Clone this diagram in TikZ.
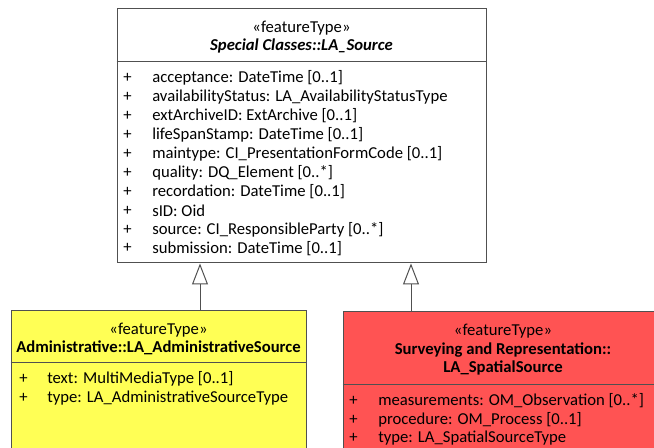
\documentclass[tikz,border=0pt]{standalone}
\usepackage{fontspec}
\setmainfont{Carlito}
\usetikzlibrary{arrows.meta,fit}
\definecolor{UmlLine}{HTML}{505050}
\definecolor{AdminYellow}{HTML}{FFFF55}
\definecolor{SpatialRed}{HTML}{FF5353}
\newcommand\umlfont{\fontsize{12.5}{14}\selectfont}

\tikzset{
  umlbox/.style={draw=UmlLine,line width=0.75pt,inner sep=0pt},
  umltext/.style={inner sep=0pt,font=\umlfont},
  umlname/.style={inner sep=0pt,font=\umlfont\bfseries},
  attr/.style={umltext,anchor=west},
  gen/.style={draw=UmlLine,line width=0.75pt,-{Triangle[open,length=15.75pt,width=12pt]}}
}

\begin{document}
\begin{tikzpicture}[x=0.75pt,y=-0.75pt]
  \useasboundingbox (0,0) rectangle (654,448);
  \clip (0,0) rectangle (654,448);

  % super class
  \node[umlbox,fill=white,fit={(117,9) (486,263)}] (src) {};
  \draw[UmlLine,line width=0.75pt] (src.west |- 0,62) -- (src.east |- 0,62);
  \node[umltext] (srcstereo) at (301.5,28) {«featureType»};
  \node[umlname,font=\umlfont\bfseries\itshape] (srcname) at (301.5,46) {Special Classes::LA\_Source};
  \foreach \i/\attr in {0/{acceptance: DateTime [0..1]},
                        1/{availabilityStatus: LA\_AvailabilityStatusType},
                        2/{extArchiveID: ExtArchive [0..1]},
                        3/{lifeSpanStamp: DateTime [0..1]},
                        4/{maintype: CI\_PresentationFormCode [0..1]},
                        5/{quality: DQ\_Element [0..*]},
                        6/{recordation: DateTime [0..1]},
                        7/{sID: Oid},
                        8/{source: CI\_ResponsibleParty [0..*]},
                        9/{submission: DateTime [0..1]}}{
    \node[attr] (srcplus\i) at (123,78.3+18.9*\i) {+};
    \node[attr] (srcattr\i) at (152,78.3+18.9*\i) {\attr};
  }

  % administrative source
  \node[umlbox,fill=AdminYellow,fit={(11,311) (306,470)}] (adm) {};
  \draw[UmlLine,line width=0.75pt] (adm.west |- 0,363) -- (adm.east |- 0,363);
  \node[umltext] (admstereo) at (158.5,330) {«featureType»};
  \node[umlname] (admname) at (158.5,348) {Administrative::LA\_AdministrativeSource};
  \node[attr] (admplus0) at (19,379) {+};
  \node[attr] (admattr0) at (47,379) {text: MultiMediaType [0..1]};
  \node[attr] (admplus1) at (19,398) {+};
  \node[attr] (admattr1) at (47,398) {type: LA\_AdministrativeSourceType};

  % spatial source
  \node[umlbox,fill=SpatialRed,fit={(343,312) (670,470)}] (spat) {};
  \draw[UmlLine,line width=0.75pt] (spat.west |- 0,385) -- (spat.east |- 0,385);
  \node[umltext] (spatstereo) at (503,331) {«featureType»};
  \node[umlname] (spatname1) at (503,350) {Surveying and Representation::};
  \node[umlname] (spatname2) at (503,368) {LA\_SpatialSource};
  \node[attr] (spatplus0) at (349,401) {+};
  \node[attr] (spatattr0) at (378,401) {measurements: OM\_Observation [0..*]};
  \node[attr] (spatplus1) at (349,420) {+};
  \node[attr] (spatattr1) at (378,420) {procedure: OM\_Process [0..1]};
  \node[attr] (spatplus2) at (349,438) {+};
  \node[attr] (spatattr2) at (378,438) {type: LA\_SpatialSourceType};

  % generalisations
  \coordinate (admtop) at (200,311);
  \coordinate (spattop) at (411,312);
  \draw[gen] (admtop) -- (admtop |- src.south);
  \draw[gen] (spattop) -- (spattop |- src.south);
\end{tikzpicture}
\end{document}
